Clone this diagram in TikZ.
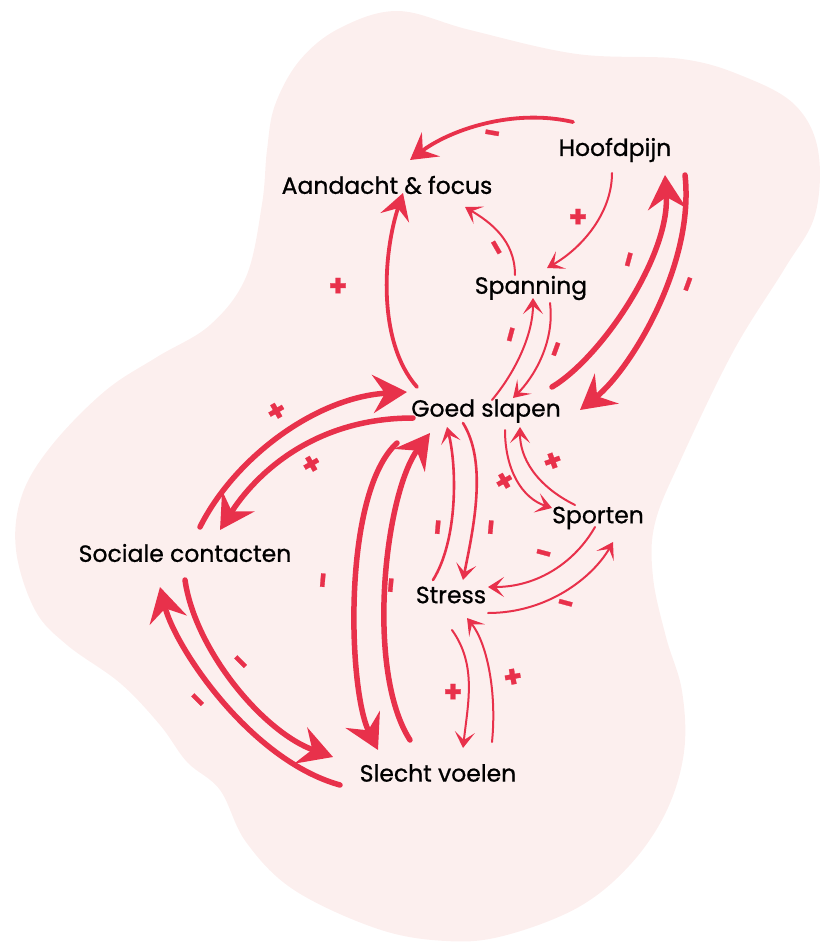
\documentclass[tikz,border=0pt]{standalone}
\usepackage{fontspec}
\setmainfont{Poppins}[FakeBold=0.8]
\usetikzlibrary{arrows.meta}
\definecolor{blobpink}{HTML}{FCEFEE}
\definecolor{linkred}{HTML}{E8314B}

\begin{document}
\begin{tikzpicture}[
x=1pt,y=-1pt,
obj/.style={font=\fontsize{23.5}{28}\selectfont,inner sep=2pt},
sign/.style={font=\fontsize{30}{30}\selectfont\bfseries,text=linkred,inner sep=0pt},
bigarrow/.style={-{Stealth[length=34pt,width=38pt,inset=12pt]},line width=5.5pt,draw=linkred,line cap=round},
midarrow/.style={-{Stealth[length=26pt,width=30pt,inset=10pt]},line width=3.8pt,draw=linkred,line cap=round},
smallarrow/.style={-{Stealth[length=16pt,width=20pt,inset=8pt]},line width=2pt,draw=linkred,line cap=round} ]

\useasboundingbox (0,0) rectangle (822,943);

\fill[blobpink] plot[smooth cycle,tension=0.6] coordinates {(267,150) (275,105) (300,60) (340,28) (398,11) (470,30) (577,54) (682,59) (745,77) (795,105) (818,150) (815,215) (785,268) (734,350) (682,457) (655,523) (653,577) (666,637) (682,691) (684,752) (666,812) (629,866) (577,908) (503,936) (446,941) (378,929) (294,890) (246,842) (220,790) (187,762) (160,725) (120,683) (67,645) (35,610) (16,550) (22,495) (52,445) (105,391) (157,357) (210,325) (246,277) (262,204)};

\node[obj] (Hoofd) at (615,150) {Hoofdpijn};

\node[obj] (Aandacht) at (387,185) {Aandacht \& focus};

\node[obj] (Spanning) at (531,288) {Spanning};

\node[obj] (Goed) at (486,411) {Goed slapen};

\node[obj] (Sporten) at (598,518) {Sporten};

\node[obj] (Sociaal) at (185,553) {Sociale contacten};

\node[obj] (Stress) at (451,595) {Stress};

\node[obj] (Slecht) at (438,773) {Slecht voelen};

\draw[midarrow] ([shift={(-42,-28)}]Hoofd.center) .. controls +(-60,-14) and +(40,-30) .. ([shift={(23,-25)}]Aandacht.center);

\draw[smallarrow] ([shift={(-3,23)}]Hoofd.center) .. controls +(0,40) and +(35,-20) .. ([shift={(16,-20)}]Spanning.center);

\draw[smallarrow] ([shift={(-16,-13)}]Spanning.center) .. controls +(0,-35) and +(25,15) .. ([shift={(78,22)}]Aandacht.center);

\draw[midarrow] ([shift={(-69,-24)}]Goed.center) .. controls +(-40,-45) and +(-20,60) .. ([shift={(16,8)}]Aandacht.center);

\draw[bigarrow] ([shift={(66,-24)}]Goed.center) .. controls +(50,-30) and +(5,80) .. ([shift={(50,25)}]Hoofd.center);

\draw[bigarrow] ([shift={(70,25)}]Hoofd.center) .. controls +(10,90) and +(50,-40) .. ([shift={(94,-1)}]Goed.center);

\draw[smallarrow] ([shift={(6,-11)}]Goed.center) .. controls +(25,-30) and +(0,35) .. ([shift={(2,10)}]Spanning.center);

\draw[smallarrow] ([shift={(19,15)}]Spanning.center) .. controls +(5,40) and +(20,-20) .. ([shift={(27,-13)}]Goed.center);

\draw[bigarrow] ([shift={(15,-26)}]Sociaal.center) .. controls +(35,-70) and +(-90,5) .. ([shift={(-79,-19)}]Goed.center);

\draw[bigarrow] ([shift={(-73,7)}]Goed.center) .. controls +(-100,0) and +(35,-55) .. ([shift={(35,-23)}]Sociaal.center);

\draw[bigarrow] ([shift={(-28,-33)}]Slecht.center) .. controls +(-45,-70) and +(-45,60) .. ([shift={(-56,22)}]Goed.center);

\draw[bigarrow] ([shift={(-89,32)}]Goed.center) .. controls +(-55,50) and +(-30,-60) .. ([shift={(-60,-23)}]Slecht.center);

\draw[bigarrow] ([shift={(-98,12)}]Slecht.center) .. controls +(-90,-25) and +(15,60) .. ([shift={(-25,34)}]Sociaal.center);

\draw[bigarrow] ([shift={(0,27)}]Sociaal.center) .. controls +(10,70) and +(-70,-25) .. ([shift={(-105,-16)}]Slecht.center);

\draw[smallarrow,line width=2.6pt] ([shift={(-18,-15)}]Stress.center) .. controls +(25,-40) and +(10,40) .. ([shift={(-39,16)}]Goed.center);

\draw[smallarrow,line width=2.6pt] ([shift={(-23,12)}]Goed.center) .. controls +(25,40) and +(10,-50) .. ([shift={(12,-15)}]Stress.center);

\draw[smallarrow] ([shift={(19,19)}]Goed.center) .. controls +(0,40) and +(-30,-10) .. ([shift={(-46,-10)}]Sporten.center);

\draw[smallarrow] ([shift={(-23,-13)}]Sporten.center) .. controls +(-40,-20) and +(0,30) .. ([shift={(34,16)}]Goed.center);

\draw[smallarrow] ([shift={(-3,9)}]Sporten.center) .. controls +(-20,35) and +(50,0) .. ([shift={(37,-8)}]Stress.center);

\draw[smallarrow] ([shift={(37,18)}]Stress.center) .. controls +(60,0) and +(-20,35) .. ([shift={(15,24)}]Sporten.center);

\draw[smallarrow] ([shift={(1,35)}]Stress.center) .. controls +(25,35) and +(5,-45) .. ([shift={(25,-25)}]Slecht.center);

\draw[smallarrow] ([shift={(54,-31)}]Slecht.center) .. controls +(5,-50) and +(20,25) .. ([shift={(16,23)}]Stress.center);

\node[sign,rotate=-10] (m1) at (492,137) {-};

\node[sign] (p1) at (578,218) {+};

\node[sign,rotate=-60] (m2) at (493,250) {-};

\node[sign] (p2) at (338,287) {+};

\node[sign,rotate=75] (m3) at (633,260) {-};

\node[sign,rotate=70] (m4) at (692,285) {-};

\node[sign,rotate=75] (m5) at (515,335) {-};

\node[sign,rotate=70] (m6) at (560,350) {-};

\node[sign,rotate=30] (p3) at (277,412) {+};

\node[sign,rotate=30] (p4) at (312,465) {+};

\node[sign,rotate=85] (m7) at (327,580) {-};

\node[sign,rotate=85] (m8) at (395,585) {-};

\node[sign,rotate=85] (m9) at (442,527) {-};

\node[sign,rotate=85] (m10) at (495,527) {-};

\node[sign,rotate=30] (p5) at (505,482) {+};

\node[sign,rotate=20] (p6) at (553,462) {+};

\node[sign,rotate=-15] (m11) at (543,557) {-};

\node[sign,rotate=-15] (m12) at (565,607) {-};

\node[sign,rotate=-45] (m13) at (195,703) {-};

\node[sign,rotate=-45] (m14) at (238,665) {-};

\node[sign] (p7) at (453,693) {+};

\node[sign,rotate=10] (p8) at (513,678) {+};

\end{tikzpicture}
\end{document}
